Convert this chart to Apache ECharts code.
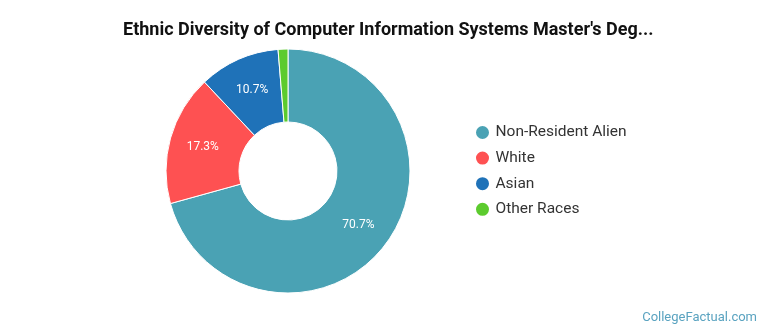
<!DOCTYPE html>
<html><head><meta charset="utf-8">
<script src="https://cdn.jsdelivr.net/npm/echarts@6/dist/echarts.min.js"></script>
<style>html,body{margin:0;padding:0;background:#fff}#c{width:770px;height:335px}</style>
</head><body><div id="c"></div>
<script>
const titleText = "Ethnic Diversity of Computer Information Systems Master's Deg...";
const categories = ["Non-Resident Alien", "White", "Asian", "Other Races"];
const values = [70.7, 17.3, 10.7, 1.3];
const colors = ["#4aa2b4", "#fe5152", "#1f72b8", "#5ccb2e"];

const chart = echarts.init(document.getElementById('c'));
chart.setOption({
  animation: false,
  title: [{
    text: titleText, left: 118, top: 16,
    textStyle: {fontFamily: 'Roboto', fontWeight: 'bold', fontSize: 18, color: '#111'}
  }, {
    text: 'CollegeFactual.com', right: 8, bottom: 6,
    textStyle: {fontFamily: 'Roboto', fontWeight: 'normal', fontSize: 13, color: '#5aa3c0'}
  }],
  legend: {
    orient: 'vertical', left: 469, top: 119,
    icon: 'circle', itemWidth: 16, itemHeight: 15, itemGap: 8.6,
    textStyle: {fontFamily: 'Roboto', fontSize: 15.5, color: '#333'},
    data: categories
  },
  series: [{
    type: 'pie', center: [288, 171], radius: [49, 122],
    startAngle: 90, clockwise: true,
    itemStyle: {borderColor: '#fff', borderWidth: 1},
    label: {
      position: 'inner', color: '#fff', fontFamily: 'Roboto', fontSize: 12,
      formatter: p => p.value >= 5 ? p.value.toFixed(1) + '%' : ''
    },
    labelLine: {show: false},
    emphasis: {disabled: true},
    data: categories.map((n, i) => ({name: n, value: values[i], itemStyle: {color: colors[i]}}))
  }]
});
</script></body></html>
